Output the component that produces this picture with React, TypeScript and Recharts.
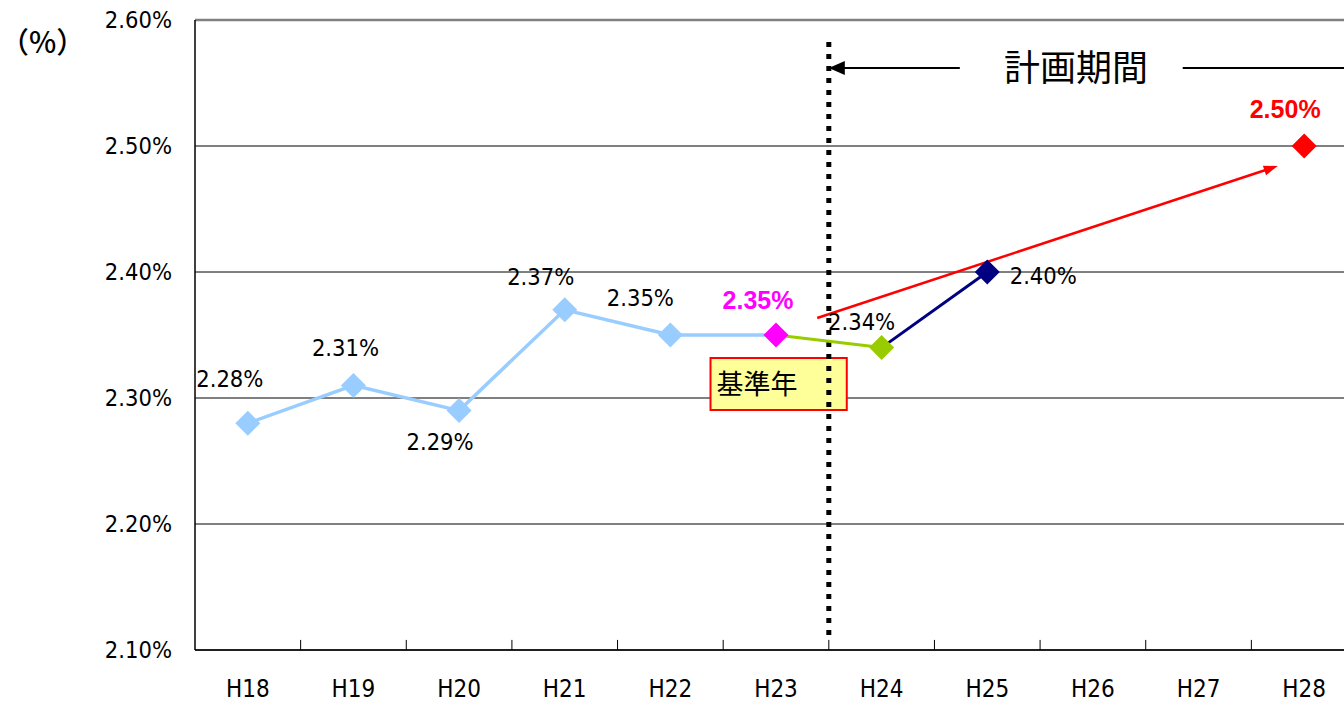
import React from "react"
import {
  LineChart,
  Line,
  XAxis,
  YAxis,
  CartesianGrid,
  ReferenceLine,
  ReferenceArea,
  ReferenceDot,
} from "recharts"

// fiscal years (Heisei)
const categories = ["H18", "H19", "H20", "H21", "H22", "H23", "H24", "H25", "H26", "H27", "H28"]
// rate in %, null where no value is shown
const rates = [2.28, 2.31, 2.29, 2.37, 2.35, 2.35, 2.34, 2.4, null, null, 2.5]
const yTicks = [2.1, 2.2, 2.3, 2.4, 2.5, 2.6]

// annotation anchors (category index / value units)
const planStart = 5.5
const periodLabel = "計画期間"
const baseYearLabel = "基準年"
const unitLabel = "（%）"

// style tables
const markerColors: Record<string, string> = {
  H18: "#99CCFF",
  H19: "#99CCFF",
  H20: "#99CCFF",
  H21: "#99CCFF",
  H22: "#99CCFF",
  H23: "#FF00FF",
  H24: "#99CC00",
  H25: "#000080",
  H28: "#FF0000",
}
const labelOffsets: Record<string, [number, number]> = {
  H18: [-18, -44],
  H19: [-8, -37],
  H20: [-19, 31],
  H21: [-24, -33],
  H22: [-30, -37],
  H23: [-18, -35],
  H24: [-20, -26],
  H25: [56, 4],
  H28: [-19, -37],
}
const boldLabels: Record<string, string> = { H23: "#FF00FF", H28: "#FF0000" }

const NARROW = "'Liberation Sans Narrow', 'DejaVu Sans Condensed', sans-serif"
const CJK = "'Noto Sans CJK JP', sans-serif"

const points = rates.map((v, i) => ({ x: i, cat: categories[i], v }))
const markerData = points.filter((p) => p.v !== null)
const actualData = points.slice(0, 6)
const baseToNext = points.slice(5, 7)
const nextToPlan = points.slice(6, 8)

const Diamond = (props: any) => {
  const { cx, cy, payload } = props
  if (cx == null || cy == null) return <g />
  const r = 12.5
  return (
    <polygon
      key={"d" + payload.cat}
      points={`${cx},${cy - r} ${cx + r},${cy} ${cx},${cy + r} ${cx - r},${cy}`}
      fill={markerColors[payload.cat]}
    />
  )
}

const ValueLabel = (props: any) => {
  const { x, y, value, index } = props
  const cat = markerData[index]?.cat
  if (!cat) return null
  const [dx, dy] = labelOffsets[cat]
  const bold = boldLabels[cat]
  return (
    <text
      x={x + dx}
      y={y + dy}
      textAnchor="middle"
      dominantBaseline="central"
      fontFamily={bold ? "'Liberation Sans', Arial, sans-serif" : NARROW}
      fontWeight={bold ? 700 : 400}
      fontSize={bold ? 25 : 23.5}
      fill={bold || "#000"}
    >
      {Number(value).toFixed(2)}%
    </text>
  )
}

const arrow = (color: string, width: number, head: "start" | "end", len: number, half: number) => (props: any) => {
  const { x1, y1, x2, y2 } = props
  const [tx, ty, fx, fy] = head === "end" ? [x2, y2, x1, y1] : [x1, y1, x2, y2]
  const d = Math.hypot(tx - fx, ty - fy) || 1
  const ux = (tx - fx) / d
  const uy = (ty - fy) / d
  const bx = tx - ux * len
  const by = ty - uy * len
  const p = `${tx},${ty} ${bx - uy * half},${by + ux * half} ${bx + uy * half},${by - ux * half}`
  return (
    <g>
      <line x1={fx} y1={fy} x2={bx + ux * 2} y2={by + uy * 2} stroke={color} strokeWidth={width} />
      <polygon points={p} fill={color} />
    </g>
  )
}

const plainLine = (color: string, width: number) => (props: any) => (
  <line x1={props.x1} y1={props.y1} x2={props.x2} y2={props.y2} stroke={color} strokeWidth={width} />
)

export default function App() {
  return (
    <div
      style={{
        position: "fixed",
        left: 0,
        top: 0,
        width: 1344,
        height: 704,
        overflow: "hidden",
        background: "#fff",
      }}
    >
      <div
        style={{
          position: "absolute",
          left: 0,
          top: 22,
          fontFamily: CJK,
          fontSize: 29,
          fontWeight: 500,
          lineHeight: "36px",
          color: "#000",
        }}
      >
        {unitLabel}
      </div>
      <div style={{ position: "absolute", left: 0, top: 0 }}>
        <LineChart width={1357} height={704} margin={{ top: 20, right: 0, bottom: 0, left: 0 }}>
          <CartesianGrid horizontal vertical={false} stroke="#000" strokeWidth={1} />
          <XAxis
            type="number"
            dataKey="x"
            domain={[-0.5, 10.5]}
            ticks={categories.map((_, i) => i)}
            tickFormatter={(i: number) => categories[i]}
            interval={0}
            height={54}
            tickLine={false}
            tickMargin={24}
            axisLine={{ stroke: "#000", strokeWidth: 1.5 }}
            tick={{ fill: "#000", fontSize: 24, fontFamily: NARROW }}
            allowDataOverflow
          />
          <YAxis
            type="number"
            domain={[2.1, 2.6]}
            ticks={yTicks}
            interval={0}
            width={195}
            tickLine={false}
            tickMargin={17}
            axisLine={{ stroke: "#000", strokeWidth: 1.5 }}
            tickFormatter={(v: number) => v.toFixed(2) + "%"}
            tick={{ fill: "#000", fontSize: 23.5, fontFamily: NARROW }}
            allowDataOverflow
          />
          <ReferenceLine y={2.6} stroke="#808080" strokeWidth={2.5} />
          {categories.slice(0, 10).map((c, i) => (
            <ReferenceLine
              key={"t" + c}
              segment={[
                { x: i + 0.5, y: 2.1 },
                { x: i + 0.5, y: 2.108 },
              ]}
              stroke="#000"
              strokeWidth={1}
            />
          ))}
          <ReferenceLine
            segment={[
              { x: planStart, y: 2.112 },
              { x: planStart, y: 2.588 },
            ]}
            stroke="#000"
            strokeWidth={5}
            strokeDasharray="5 7"
          />
          <ReferenceLine
            segment={[
              { x: planStart, y: 2.562 },
              { x: 6.74, y: 2.562 },
            ]}
            shape={arrow("#000", 2, "start", 16, 7)}
          />
          <ReferenceLine
            segment={[
              { x: 8.85, y: 2.562 },
              { x: 10.5, y: 2.562 },
            ]}
            shape={plainLine("#000", 2)}
          />
          <ReferenceDot
            x={7.84}
            y={2.562}
            r={0}
            fill="none"
            stroke="none"
            label={{
              value: periodLabel,
              position: "center",
              fontSize: 36,
              fill: "#000",
              fontFamily: CJK,
            }}
          />
          <ReferenceLine
            segment={[
              { x: 5.39, y: 2.3635 },
              { x: 9.75, y: 2.4841 },
            ]}
            shape={arrow("#FF0000", 2.5, "end", 14, 5)}
          />
          <Line
            data={actualData}
            dataKey="v"
            stroke="#99CCFF"
            strokeWidth={3.5}
            dot={false}
            isAnimationActive={false}
          />
          <Line
            data={baseToNext}
            dataKey="v"
            stroke="#99CC00"
            strokeWidth={3}
            dot={false}
            isAnimationActive={false}
          />
          <Line
            data={nextToPlan}
            dataKey="v"
            stroke="#000080"
            strokeWidth={3}
            dot={false}
            isAnimationActive={false}
          />
          <Line
            data={markerData}
            dataKey="v"
            stroke="none"
            dot={Diamond}
            activeDot={false}
            label={ValueLabel}
            isAnimationActive={false}
          />
          <ReferenceArea
            x1={4.38}
            x2={5.67}
            y1={2.2905}
            y2={2.3317}
            fill="#FFFF99"
            fillOpacity={1}
            stroke="#FF0000"
            strokeWidth={2}
            label={{
              value: baseYearLabel,
              position: "insideLeft",
              offset: 6,
              fontSize: 27,
              fill: "#000",
              fontFamily: CJK,
            }}
          />
        </LineChart>
      </div>
    </div>
  )
}
